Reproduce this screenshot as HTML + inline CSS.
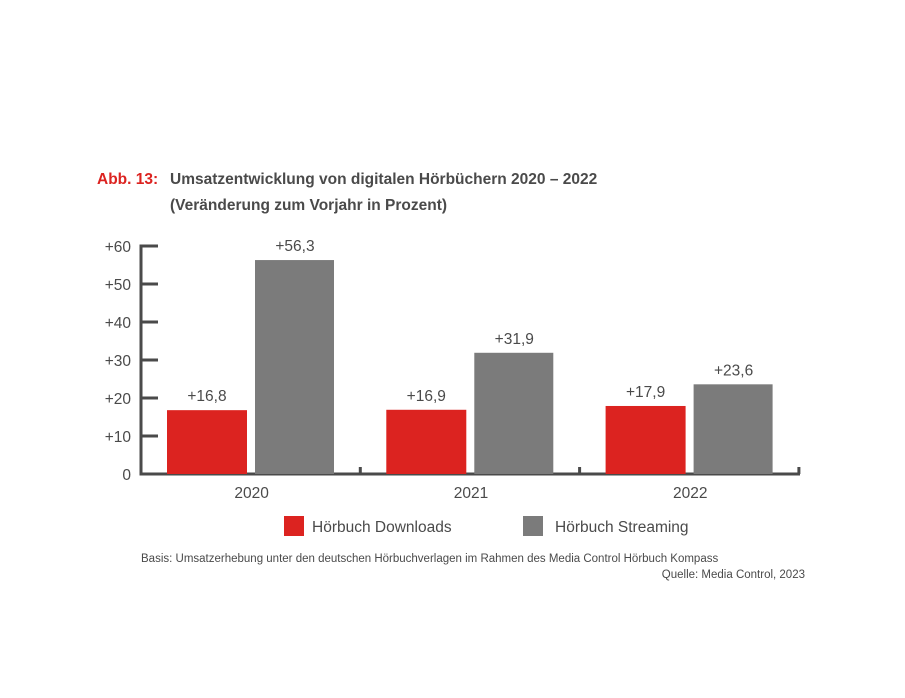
<!DOCTYPE html>
<html><head><meta charset="utf-8"><style>
body{margin:0;background:#fff;}
svg{display:block;font-family:"Liberation Sans",sans-serif;}
</style></head><body>
<svg id="chart" width="905" height="698" viewBox="0 0 905 698">
<text x="97" y="184" font-size="15.5" font-weight="bold" fill="#dc2320">Abb. 13:</text>
<text x="170" y="184" font-size="15.5" font-weight="bold" fill="#4a4a4a">Umsatzentwicklung von digitalen Hörbüchern 2020 – 2022</text>
<text x="170" y="210" font-size="15.5" font-weight="bold" fill="#4a4a4a">(Veränderung zum Vorjahr in Prozent)</text>
<g id="axes"></g>
<g id="bars"></g>
<rect x="284" y="516" width="20" height="20" fill="#dc2320"/>
<text x="312" y="532" font-size="15.5" fill="#4a4a4a">Hörbuch Downloads</text>
<rect x="523" y="516" width="20" height="20" fill="#7b7b7b"/>
<text x="555" y="532" font-size="15.5" fill="#4a4a4a">Hörbuch Streaming</text>
<text x="141" y="562" font-size="11.5" fill="#4a4a4a">Basis: Umsatzerhebung unter den deutschen Hörbuchverlagen im Rahmen des Media Control Hörbuch Kompass</text>
<text x="805" y="578" font-size="11.5" fill="#4a4a4a" text-anchor="end">Quelle: Media Control, 2023</text>
</svg>
<script>
const categories = ["2020","2021","2022"];
const downloads = [16.8, 16.9, 17.9];
const streaming = [56.3, 31.9, 23.6];
const yTicks = [0,10,20,30,40,50,60];
const yTickLabels = ["0","+10","+20","+30","+40","+50","+60"];
const downloadLabels = ["+16,8","+16,9","+17,9"];
const streamingLabels = ["+56,3","+31,9","+23,6"];

const NS = "http://www.w3.org/2000/svg";
const y0 = 474, pxPerUnit = 3.8;
const y = v => y0 - v * pxPerUnit;
const axisL = 141, groupW = 219.3;
const xGroup = i => axisL + i * groupW;
function mk(tag, attrs, parent){const e=document.createElementNS(NS,tag);for(const k in attrs)e.setAttribute(k,attrs[k]);parent.appendChild(e);return e;}
const axes = document.getElementById('axes');
const bars = document.getElementById('bars');

const yAxis = mk('line',{x1:axisL,y1:y(60)-1.5,x2:axisL,y2:y0+1.5,stroke:'#4a4a4a','stroke-width':3},axes);


const xAxis = mk('line',{x1:axisL,y1:y0,x2:800,y2:y0,stroke:'#4a4a4a','stroke-width':3},axes);



yTicks.forEach((v,i)=>{
  if(v>0){
    const t = mk('line',{x1:axisL,y1:y(v),x2:158,y2:y(v),stroke:'#4a4a4a','stroke-width':3},axes);
    
    
  }
  const l = mk('text',{x:131,y:y(v)+6,'font-size':15.5,fill:'#4a4a4a','text-anchor':'end'},axes);
  l.textContent = yTickLabels[i];
  
  
});
for(let i=1;i<=categories.length;i++){
  const x = xGroup(i);
  const t = mk('line',{x1:x,y1:y0-7,x2:x,y2:y0,stroke:'#4a4a4a','stroke-width':3},axes);
  
  
}
categories.forEach((c,i)=>{
  const gx = xGroup(i);
  const bw = 80;
  const rx = gx + 26, gxs = gx + 114;
  const r = mk('rect',{x:rx,y:y(downloads[i]),width:bw,height:y0-y(downloads[i]),fill:'#dc2320'},bars);
  
  
  const g = mk('rect',{x:gxs,y:y(streaming[i]),width:bw-1,height:y0-y(streaming[i]),fill:'#7b7b7b'},bars);
  
  
  const lr = mk('text',{x:rx+bw/2,y:y(downloads[i])-9,'font-size':15.5,fill:'#4a4a4a','text-anchor':'middle'},bars);
  lr.textContent = downloadLabels[i];
  
  
  const lg = mk('text',{x:gxs+bw/2,y:y(streaming[i])-9,'font-size':15.5,fill:'#4a4a4a','text-anchor':'middle'},bars);
  lg.textContent = streamingLabels[i];
  
  
  const cl = mk('text',{x:gx+groupW/2+1,y:498,'font-size':15.5,fill:'#4a4a4a','text-anchor':'middle'},bars);
  cl.textContent = c;
  
  
});
</script>
</body></html>
